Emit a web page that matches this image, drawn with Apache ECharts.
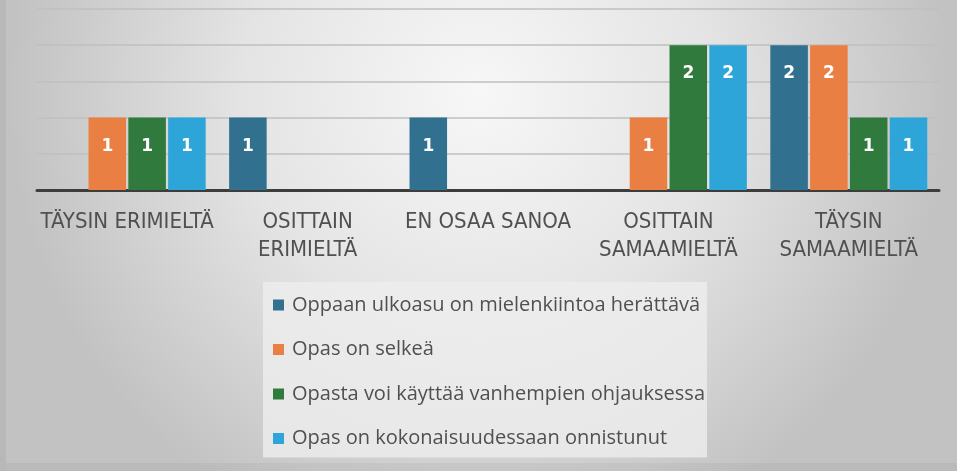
<!DOCTYPE html>
<head>
    <meta charset="utf-8">
    <title>ECharts</title>
    <style>
        html, body { margin: 0; padding: 0; }
        #main { width: 957px; height: 471px; }
    </style>
</head>
<body>
<div id="main"></div>
<script src="https://cdn.jsdelivr.net/npm/echarts@6/dist/echarts.min.js"></script>
<script type="text/javascript">
// kategoriat (x-akseli)
var categories = ['TÄYSIN ERIMIELTÄ', 'OSITTAIN\nERIMIELTÄ', 'EN OSAA SANOA', 'OSITTAIN\nSAMAAMIELTÄ', 'TÄYSIN\nSAMAAMIELTÄ'];
var seriesNames = [
    'Oppaan ulkoasu on mielenkiintoa herättävä',
    'Opas on selkeä',
    'Opasta voi käyttää vanhempien ohjauksessa',
    'Opas on kokonaisuudessaan onnistunut'
];
var ulkoasu = [0, 1, 1, 0, 2];
var selkea = [1, 0, 0, 1, 2];
var ohjaus = [1, 0, 0, 2, 1];
var onnistunut = [1, 0, 0, 2, 1];
var colors = ['#31718f', '#e97f42', '#2f7a3c', '#2ea5d9'];

var myChart = echarts.init(document.getElementById('main'));

function makeSeries(name, data) {
    return {
        name: name,
        type: 'bar',
        data: data,
        barGap: '6%',
        barCategoryGap: '13%',
        label: {
            show: true,
            position: 'insideTop',
            distance: 20,
            color: '#fff',
            fontWeight: 'bold',
            fontSize: 17,
            fontFamily: 'DejaVu Sans',
            formatter: function (p) { return p.value > 0 ? p.value : ''; }
        }
    };
}

var option = {
    backgroundColor: {
        type: 'radial', x: 0.5, y: 0.2, r: 1.0,
        colorStops: [
            {offset: 0, color: '#f7f7f7'},
            {offset: 0.5, color: '#e4e4e4'},
            {offset: 1, color: '#c2c2c2'}
        ]
    },
    color: colors,
    animation: false,
    // tumma reunus vasemmalla ja alhaalla
    graphic: [
        {type: 'rect', left: 0, top: 0, shape: {width: 6, height: 471}, style: {fill: 'rgba(0,0,0,0.05)'}, silent: true},
        {type: 'rect', left: 6, bottom: 0, shape: {width: 951, height: 8}, style: {fill: 'rgba(0,0,0,0.04)'}, silent: true}
    ],
    grid: {left: 37, right: 18, top: 9, bottom: 281},
    legend: {
        orient: 'vertical',
        left: 263,
        top: 282,
        padding: [13, 2, 9, 10],
        backgroundColor: 'rgba(238,238,238,0.8)',
        itemWidth: 11,
        itemHeight: 11,
        itemGap: 24.5,
        icon: 'rect',
        textStyle: {color: '#505050', fontSize: 20, lineHeight: 20, fontFamily: 'Open Sans', padding: [0, 0, 0, 3]},
        data: seriesNames
    },
    xAxis: {
        type: 'category',
        data: categories,
        axisLine: {lineStyle: {color: '#3d3d3d', width: 3}},
        axisTick: {show: false},
        axisLabel: {
            color: '#505050',
            fontSize: 22,
            fontFamily: 'DejaVu Sans Condensed',
            lineHeight: 28,
            margin: 18,
            interval: 0
        }
    },
    yAxis: {
        type: 'value',
        min: 0,
        max: 2.5,
        interval: 0.5,
        axisLabel: {show: false},
        axisLine: {show: false},
        axisTick: {show: false},
        splitLine: {lineStyle: {color: '#bfbfbf', width: 1.5}}
    },
    series: [
        makeSeries(seriesNames[0], ulkoasu),
        makeSeries(seriesNames[1], selkea),
        makeSeries(seriesNames[2], ohjaus),
        makeSeries(seriesNames[3], onnistunut)
    ]
};
myChart.setOption(option);
</script>
</body>
